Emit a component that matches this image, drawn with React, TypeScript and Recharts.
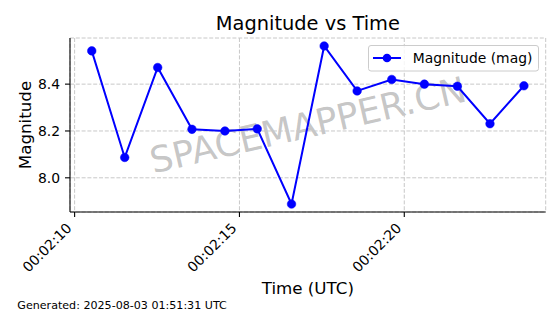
import React from 'react';
import { LineChart, Line, XAxis, YAxis, CartesianGrid } from 'recharts';

// seconds after 00:02:00 UTC
const timeSeconds = [10.52, 11.52, 12.52, 13.56, 14.56, 15.54, 16.58, 17.57, 18.57, 19.62, 20.61, 21.61, 22.6, 23.63];
const magnitudes = [8.542, 8.087, 8.471, 8.207, 8.2, 8.209, 7.888, 8.563, 8.371, 8.42, 8.4, 8.391, 8.231, 8.393];
const xTicks = [10, 15, 20];
const yTicks = [8.0, 8.2, 8.4];
const xDomain = [9.86, 24.29];
const yDomain = [7.854, 8.597];

const data = timeSeconds.map((t, i) => ({ t, mag: magnitudes[i] }));

const FONT = 'DejaVu Sans, sans-serif';

const fmtTime = (s: number) => `00:02:${String(Math.round(s)).padStart(2, '0')}`;

const XTick = (props: any) => {
  const { x, y, payload } = props;
  const ax = x - 2;
  const ay = y + 7;
  return (
    <text
      x={ax}
      y={ay}
      textAnchor="end"
      fontSize={13.9}
      fontFamily={FONT}
      fill="#000"
      transform={`rotate(-45 ${ax} ${ay})`}
    >
      {fmtTime(payload.value)}
    </text>
  );
};

const W = 560;
const H = 314;
const plotLeft = 70;
const plotRight = 545.7;
const plotTop = 38;
const plotBottom = 212;
const cx = (plotLeft + plotRight) / 2;
const cy = (plotTop + plotBottom) / 2;

export default function App() {
  return (
    <div style={{ position: 'absolute', left: 0, top: 0, width: W, height: H, background: '#fff' }}>
      <svg width={W} height={H} style={{ position: 'absolute', left: 0, top: 0 }}>
        <text
          x={cx}
          y={cy}
          textAnchor="middle"
          dominantBaseline="central"
          fontSize={36}
          fontFamily={FONT}
          fill="#808080"
          fillOpacity={0.45}
          transform={`rotate(-13 ${cx} ${cy})`}
        >
          SPACEMAPPER.CN
        </text>
      </svg>
      <div style={{ position: 'absolute', left: 0, top: 0 }}>
        <LineChart
          width={W}
          height={H}
          data={data}
          margin={{ top: plotTop, right: W - plotRight, left: plotLeft - 60, bottom: H - plotBottom - 60 }}
        >
          <CartesianGrid stroke="#c8c8c8" strokeDasharray="4 1.8" strokeWidth={1} />
          <XAxis
            dataKey="t"
            type="number"
            domain={xDomain}
            ticks={xTicks}
            allowDataOverflow
            height={60}
            tickSize={5}
            tickMargin={5}
            tick={<XTick />}
            stroke="#000"
            axisLine={{ stroke: '#000', strokeWidth: 1.1 }}
            tickLine={{ stroke: '#000', strokeWidth: 1.1 }}
          />
          <XAxis
            xAxisId="top"
            orientation="top"
            dataKey="t"
            type="number"
            domain={xDomain}
            allowDataOverflow
            height={0}
            tick={false}
            tickLine={false}
            axisLine={{ stroke: '#000', strokeWidth: 1.1 }}
          />
          <YAxis
            type="number"
            domain={yDomain}
            ticks={yTicks}
            allowDataOverflow
            width={60}
            tickSize={5}
            tickMargin={5}
            tickFormatter={(v: number) => v.toFixed(1)}
            tick={{ fontSize: 13.9, fontFamily: FONT, fill: '#000' }}
            axisLine={{ stroke: '#000', strokeWidth: 1.1 }}
            tickLine={{ stroke: '#000', strokeWidth: 1.1 }}
          />
          <YAxis
            yAxisId="right"
            orientation="right"
            type="number"
            domain={yDomain}
            allowDataOverflow
            width={0}
            tick={false}
            tickLine={false}
            axisLine={{ stroke: '#000', strokeWidth: 1.1 }}
          />
          <Line
            dataKey="mag"
            stroke="#0000ff"
            strokeWidth={2}
            isAnimationActive={false}
            dot={{ r: 4.3, fill: '#0000ff', stroke: '#0000ff', strokeWidth: 0.5 }}
            activeDot={false}
          />
        </LineChart>
      </div>
      <svg width={W} height={H} style={{ position: 'absolute', left: 0, top: 0, pointerEvents: 'none' }}>
        <text x={cx} y={30} textAnchor="middle" fontSize={19.4} fontFamily={FONT} fill="#000">
          Magnitude vs Time
        </text>
        <text x={cx} y={294.3} textAnchor="middle" fontSize={16.7} fontFamily={FONT} fill="#000">
          Time (UTC)
        </text>
        <text
          x={30.5}
          y={cy}
          textAnchor="middle"
          fontSize={16.7}
          fontFamily={FONT}
          fill="#000"
          transform={`rotate(-90 30.5 ${cy})`}
        >
          Magnitude
        </text>
        <text x={17.3} y={309} fontSize={11.1} fontFamily={FONT} fill="#000">
          Generated: 2025-08-03 01:51:31 UTC
        </text>
        <g>
          <rect x={368.5} y={45.5} width={170} height={25.5} rx={2.5} fill="#fff" fillOpacity={0.8} stroke="#cccccc" strokeWidth={1} />
          <line x1={373} y1={58} x2={401} y2={58} stroke="#0000ff" strokeWidth={2} />
          <circle cx={387} cy={58} r={4.3} fill="#0000ff" />
          <text x={412.7} y={63} fontSize={13.9} fontFamily={FONT} fill="#000">
            Magnitude (mag)
          </text>
        </g>
      </svg>
    </div>
  );
}
